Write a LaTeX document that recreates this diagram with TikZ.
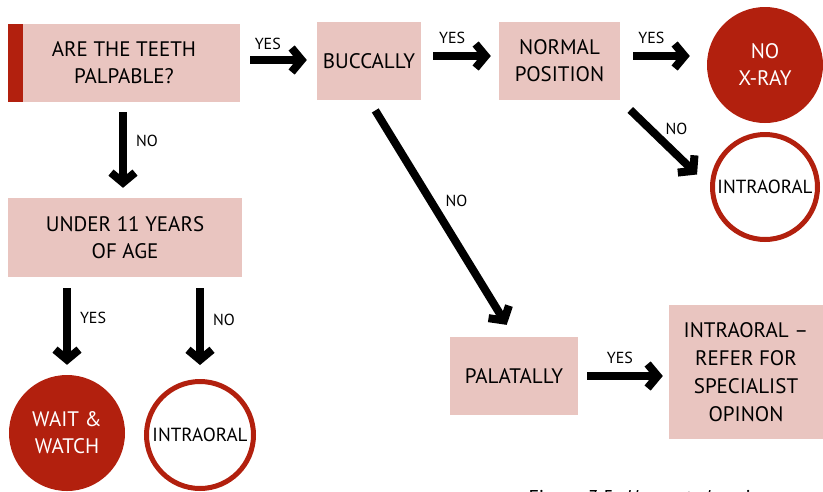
\documentclass[tikz,border=0pt]{standalone}
\usepackage{fontspec}
\setmainfont{PT Sans}
\usetikzlibrary{arrows.meta}
\definecolor{boxpink}{RGB}{233,197,192}
\definecolor{darkred}{RGB}{178,32,14}
\begin{document}
\begin{tikzpicture}[x=1pt,y=-1pt,line join=miter,
	box/.style={fill=boxpink,inner sep=0pt,align=center,font=\fontsize{21}{27}\selectfont},
	endfill/.style={circle,fill=darkred,text=white,inner sep=0pt,minimum size=116pt,align=center,font=\fontsize{21}{27}\selectfont},
	endring/.style={circle,draw=darkred,line width=5pt,fill=white,inner sep=0pt,align=center,font=\fontsize{19}{24}\selectfont},
	arr/.style={line width=8pt,-{Straight Barb[length=10pt,width=24pt,sharp]}},
	lab/.style={font=\fontsize{16}{18}\selectfont,inner sep=1pt}]
	\useasboundingbox (0,0) rectangle (823,491);
	% question boxes
	\node[box,minimum width=232pt,minimum height=78pt] (q1) at (124,63) {ARE THE TEETH\\PALPABLE?};
	\fill[darkred] (q1.north west) rectangle ([xshift=15pt]q1.south west);
	\node[box,minimum width=104pt,minimum height=78pt] (bucc) at (369,61) {BUCCALLY};
	\node[box,minimum width=121pt,minimum height=78pt] (norm) at (559.5,61) {NORMAL\\POSITION};
	\node[box,minimum width=234pt,minimum height=79pt] (under) at (125,237.5) {UNDER 11 YEARS\\OF AGE};
	\node[box,minimum width=128pt,minimum height=78pt] (pal) at (514,376) {PALATALLY};
	\node[box,minimum width=154pt,minimum height=134pt,font=\fontsize{21}{28}\selectfont] (refer) at (746,372) {INTRAORAL --\\REFER FOR\\SPECIALIST\\OPINON};
	% end points
	\node[endfill] (noxray) at (765,65) {NO\\X-RAY};
	\node[endring,minimum size=105pt] (intraR) at (765,187) {INTRAORAL};
	\node[endfill] (wait) at (67,433) {WAIT \&\\WATCH};
	\node[endring,minimum size=107pt] (intraL) at (200,435) {INTRAORAL};
	% arrows
	\draw[arr,shorten <=10pt,shorten >=10pt] ([yshift=3pt]q1.east) -- ([yshift=3pt]q1.east -| bucc.west) node[lab,pos=0.36,above=5pt]{YES};
	\draw[arr,shorten <=12pt,shorten >=8pt] ([yshift=5pt]bucc.east) -- ([yshift=5pt]bucc.east -| norm.west) node[lab,pos=0.4,above=7pt]{YES};
	\draw[arr,shorten <=13pt,shorten >=17pt] ([yshift=5pt]norm.east) -- ([yshift=5pt]norm.east -| noxray.west) node[lab,pos=0.36,above=7pt]{YES};
	\draw[arr,shorten <=14pt,shorten >=18pt] (norm.south east) -- (intraR.west) node[lab,pos=0.45,above right=0pt]{NO};
	\draw[arr,shorten <=12pt,shorten >=14pt] (bucc.south) -- (pal.north) node[lab,pos=0.48,above right=2pt]{NO};
	\draw[arr,shorten <=9pt,shorten >=6pt] (pal.east) -- (pal.east -| refer.west) node[lab,pos=0.46,above=7pt]{YES};
	\draw[arr,shorten <=10pt,shorten >=10pt] ([xshift=-1pt]q1.south) -- ([xshift=-1pt]q1.south |- under.north) node[lab,pos=0.4,right=8pt]{NO};
	\draw[arr,shorten <=11pt,shorten >=10pt] (under.south -| wait) -- (wait.north) node[lab,pos=0.42,right=8pt]{YES};
	\draw[arr,shorten <=11pt,shorten >=14pt] (under.south -| intraL) -- (intraL.north) node[lab,pos=0.42,right=8pt]{NO};
	% caption, cut off at the lower edge
	\node[anchor=base west,font=\fontsize{20}{24}\selectfont] (cap) at (525,504) {Figure 3.5: \textit{Unerupted canines}};
\end{tikzpicture}
\end{document}
